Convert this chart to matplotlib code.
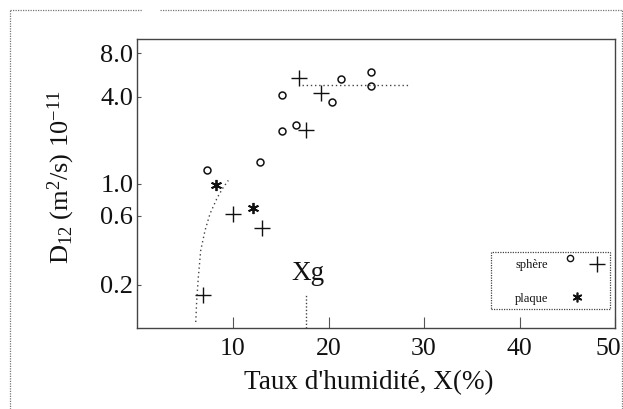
import matplotlib
matplotlib.use('Agg')
import matplotlib.pyplot as plt
from matplotlib.lines import Line2D
from matplotlib.patches import Rectangle
from matplotlib.transforms import ScaledTranslation

# ---- data ----
sphere_o_x = [7.3, 12.8, 15.1, 15.1, 16.6, 20.4, 21.3, 24.4, 24.4]
sphere_o_y = [1.24, 1.40, 4.11, 2.32, 2.55, 3.69, 5.27, 5.89, 4.71]
sphere_p_x = [6.9, 10.0, 13.0, 16.9, 17.6, 19.2]
sphere_p_y = [0.17, 0.62, 0.49, 5.35, 2.33, 4.26]
plaque_x = [8.25, 12.1]
plaque_y = [0.97, 0.675]
curve_x = [6.10, 6.20, 6.37, 6.62, 7.07, 7.59, 8.36, 8.98, 9.51]
curve_y = [0.110, 0.155, 0.225, 0.344, 0.473, 0.617, 0.80, 0.94, 1.05]
plateau_x = [17.2, 28.3]
plateau_y = [4.8, 4.8]
xg_x = [17.65, 17.65]
xg_y = [0.1, 0.173]
xg_label_pos = (17.9, 0.238)
xticks = [10, 20, 30, 40, 50]
yticks = [0.2, 0.6, 1.0, 4.0, 8.0]
ytick_labels = ['0.2', '0.6', '1.0', '4.0', '8.0']

plt.rcParams['font.family'] = ['Liberation Serif', 'DejaVu Serif']
plt.rcParams['mathtext.fontset'] = 'custom'
plt.rcParams['mathtext.rm'] = 'Liberation Serif'
plt.rcParams['mathtext.it'] = 'Liberation Serif:italic'

fig = plt.figure(figsize=(6.23, 4.09), dpi=100)
ax = fig.add_axes([0.2207, 0.198, 0.7665, 0.7066])

ink = '#111111'
ax.plot(sphere_o_x, sphere_o_y, linestyle='none', marker='o', ms=5,
        mfc='white', mec=ink, mew=1.1)
ax.plot(sphere_p_x, sphere_p_y, linestyle='none', marker='+', ms=11,
        mec=ink, mew=1.0)
ax.plot(plaque_x, plaque_y, linestyle='none', marker=(6, 2, 0), ms=8,
        mec=ink, mew=1.3)
ax.plot(curve_x, curve_y, color='#444444', lw=1.0, linestyle=(0, (1, 2.2)))
ax.plot(plateau_x, plateau_y, color='#444444', lw=1.0, linestyle=(0, (1, 2)))
ax.plot(xg_x, xg_y, color='#444444', lw=1.0, linestyle=(0, (1, 1.5)))
ax.text(xg_label_pos[0], xg_label_pos[1], 'Xg', ha='center', va='center',
        fontsize=19.5, color=ink)

ax.set_yscale('log')
ax.set_xlim(0, 50)
ax.set_ylim(0.1, 10)
ax.set_xticks(xticks)
ax.set_xticklabels([str(t) for t in xticks])
ax.set_yticks(yticks)
ax.set_yticklabels(ytick_labels)
ax.yaxis.set_minor_locator(matplotlib.ticker.NullLocator())
ax.tick_params(axis='x', direction='in', length=8, width=0.8, pad=7,
               labelsize=18.5, colors='#555555', labelcolor=ink)
ax.tick_params(axis='y', direction='in', length=3, width=0.8, pad=3,
               labelsize=19, colors='#555555', labelcolor=ink)
last = ax.get_xticklabels()[-1]
last.set_transform(last.get_transform() +
                   ScaledTranslation(-5 / 72, 0, fig.dpi_scale_trans))
for s in ax.spines.values():
    s.set_linestyle((0, (1, 1)))
    s.set_linewidth(1.0)
    s.set_color('#444444')

# legend box (manual)
ax.add_patch(Rectangle((0.740, 0.066), 0.250, 0.196, transform=ax.transAxes,
                       fill=False, ec='#444444', lw=0.9, ls=(0, (1, 1))))
ax.text(0.826, 0.218, 'sphère', transform=ax.transAxes, ha='center',
        va='center', fontsize=9, color=ink)
ax.text(0.826, 0.099, 'plaque', transform=ax.transAxes, ha='center',
        va='center', fontsize=9, color=ink)
ax.plot([0.906], [0.241], transform=ax.transAxes, marker='o', ms=4.5,
        mfc='white', mec=ink, mew=1.0, clip_on=False)
ax.plot([0.963], [0.221], transform=ax.transAxes, marker='+', ms=11,
        mec=ink, mew=1.0, clip_on=False)
ax.plot([0.920], [0.108], transform=ax.transAxes, marker=(6, 2, 0), ms=7,
        mec=ink, mew=1.2, clip_on=False)

# axis titles
fig.text(0.5923, 0.064, "Taux d'humidité, X(%)", ha='center', va='center',
         fontsize=19.5, color=ink)
fig.text(0.099, 0.567, r'D$_{12}$ (m$^{2}$/s) 10$^{-11}$', rotation=90,
         ha='center', va='center', fontsize=19, color=ink)

# outer scanned frame
frame_kw = dict(transform=fig.transFigure, color='#777777', lw=0.9,
                ls=(0, (1, 1)))
fig.add_artist(Line2D([0.016, 0.016], [0.0, 0.975], **frame_kw))
fig.add_artist(Line2D([0.016, 0.228], [0.975, 0.975], **frame_kw))
fig.add_artist(Line2D([0.257, 1.0], [0.975, 0.975], **frame_kw))
fig.add_artist(Line2D([0.998, 0.998], [0.0, 0.975], **frame_kw))

fig.savefig('out.png', dpi=100)
